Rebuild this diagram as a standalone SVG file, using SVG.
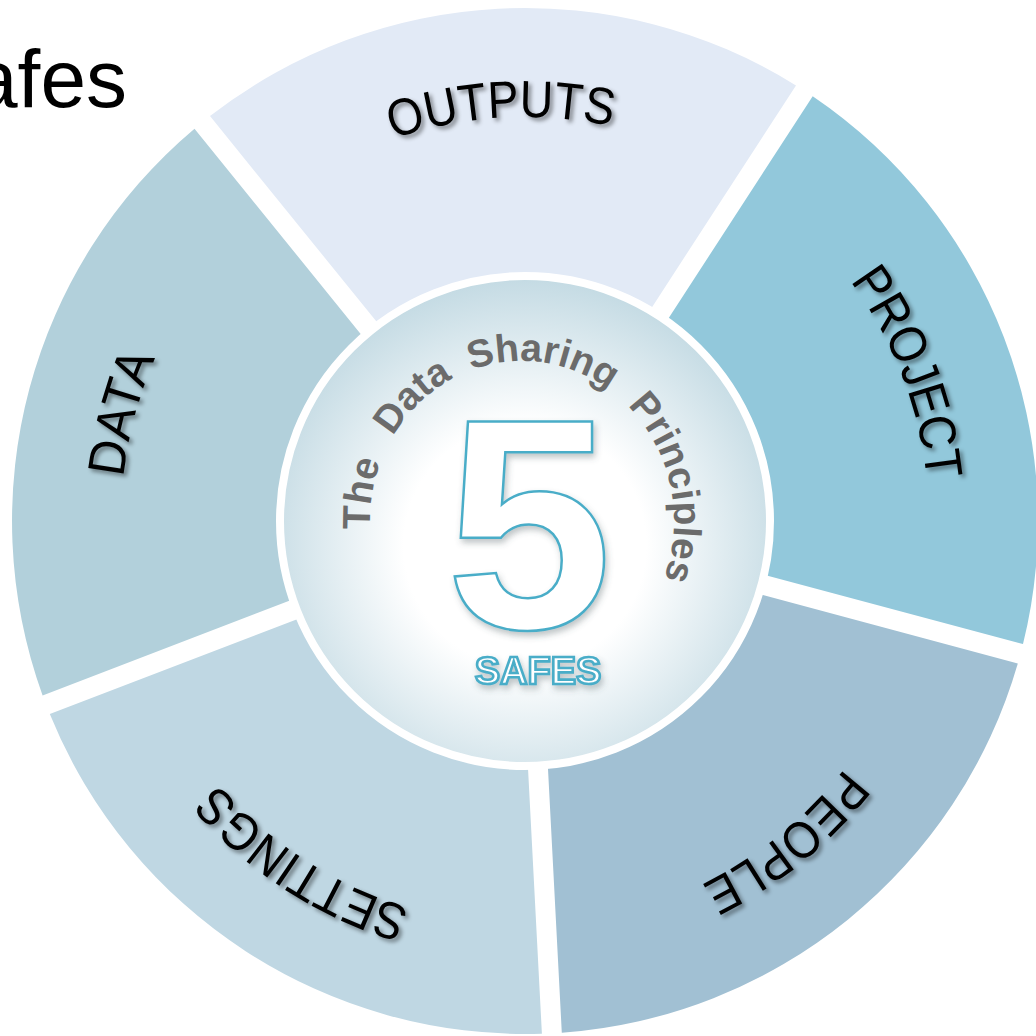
<svg xmlns="http://www.w3.org/2000/svg" width="1036" height="1036" viewBox="0 0 1036 1036">
  <style>
    .label { font-family: "Liberation Sans", Arial, sans-serif; font-size: 52px; fill: #000; }
    .arcword { font-family: "Liberation Sans", Arial, sans-serif; font-weight: bold; font-size: 39px; fill: #6b6b6b; }
    .title { font-family: "Liberation Sans", Arial, sans-serif; font-size: 82px; fill: #000; }
  </style>
  <defs>
    <filter id="txtShadow" x="-20%" y="-20%" width="140%" height="140%">
      <feDropShadow dx="3" dy="3" stdDeviation="2.2" flood-color="#000" flood-opacity="0.45"/>
    </filter>
    <filter id="fiveShadow" x="-20%" y="-20%" width="140%" height="140%">
      <feDropShadow dx="2" dy="4" stdDeviation="3" flood-color="#4a5a60" flood-opacity="0.35"/>
    </filter>
    <radialGradient id="hubGrad" cx="50%" cy="55%" r="55%">
      <stop offset="0" stop-color="#ffffff"/>
      <stop offset="0.45" stop-color="#ffffff"/>
      <stop offset="1" stop-color="#c3dae3"/>
    </radialGradient>
    <path id="labelPath" d="M525,925 A404,404 0 1 1 525,117 A404,404 0 1 1 525,925"/>
    <path id="hubPath" d="M522,681 A152,160 0 1 1 522,361 A152,160 0 1 1 522,681"/>
  </defs>

  <g id="title">
    <text class="title" x="127" y="107" text-anchor="end">afes</text>
  </g>

  <g id="seg-outputs">
    <path d="M210.0,116.1 A513,513 0 0 1 796.0,85.4 L641.8,322.9 A230,230 0 0 0 388.2,336.1 Z" fill="#e2eaf6"/>
    <text class="label" filter="url(#txtShadow)"><textPath href="#labelPath" startOffset="1245" text-anchor="middle" textLength="222" lengthAdjust="spacingAndGlyphs">OUTPUTS</textPath></text>
  </g>
  <g id="seg-project">
    <path d="M812.7,96.3 A513,513 0 0 1 1023.0,644.1 L749.5,570.8 A230,230 0 0 0 658.5,333.7 Z" fill="#92c8db"/>
    <text class="label" filter="url(#txtShadow)"><textPath href="#labelPath" startOffset="1754" text-anchor="middle" textLength="216" lengthAdjust="spacingAndGlyphs">PROJECT</textPath></text>
  </g>
  <g id="seg-people">
    <path d="M1017.8,663.4 A513,513 0 0 1 561.8,1032.7 L547.0,749.9 A230,230 0 0 0 744.4,590.1 Z" fill="#a1c0d3"/>
    <text class="label" filter="url(#txtShadow)"><textPath href="#labelPath" startOffset="2262" text-anchor="middle" textLength="186" lengthAdjust="spacingAndGlyphs">PEOPLE</textPath></text>
  </g>
  <g id="seg-settings">
    <path d="M541.9,1033.7 A513,513 0 0 1 49.8,714.1 L314.1,612.7 A230,230 0 0 0 527.1,751.0 Z" fill="#bfd7e3"/>
    <text class="label" filter="url(#txtShadow)"><textPath href="#labelPath" startOffset="232.5" text-anchor="middle" textLength="232" lengthAdjust="spacingAndGlyphs">SETTINGS</textPath></text>
  </g>
  <g id="seg-data">
    <path d="M42.6,695.5 A513,513 0 0 1 194.5,128.7 L372.6,348.7 A230,230 0 0 0 306.9,594.0 Z" fill="#b2d0db"/>
    <text class="label" filter="url(#txtShadow)"><textPath href="#labelPath" startOffset="740" text-anchor="middle" textLength="124" lengthAdjust="spacingAndGlyphs">DATA</textPath></text>
  </g>

  <g id="connectors"/>

  <g id="hub">
    <circle cx="525" cy="521" r="245" fill="url(#hubGrad)" stroke="#ffffff" stroke-width="8"/>
    <text class="arcword"><textPath href="#hubPath" startOffset="271.2" text-anchor="middle">The</textPath></text>
    <text class="arcword"><textPath href="#hubPath" startOffset="376.1" text-anchor="middle">Data</textPath></text>
    <text class="arcword"><textPath href="#hubPath" startOffset="510.8" text-anchor="middle">Sharing</textPath></text>
    <text class="arcword"><textPath href="#hubPath" startOffset="700.9" text-anchor="middle">Principles</textPath></text>
    <text x="529" y="628" text-anchor="middle" font-family="'Liberation Sans', Arial, sans-serif" font-weight="bold" font-size="300" fill="#ffffff" stroke="#4aadc8" stroke-width="2.5" filter="url(#fiveShadow)">5</text>
    <text x="538" y="684" text-anchor="middle" font-family="'Liberation Sans', Arial, sans-serif" font-weight="bold" font-size="38" fill="#ffffff" stroke="#4aadc8" stroke-width="2.6" filter="url(#fiveShadow)">SAFES</text>
  </g>
</svg>
